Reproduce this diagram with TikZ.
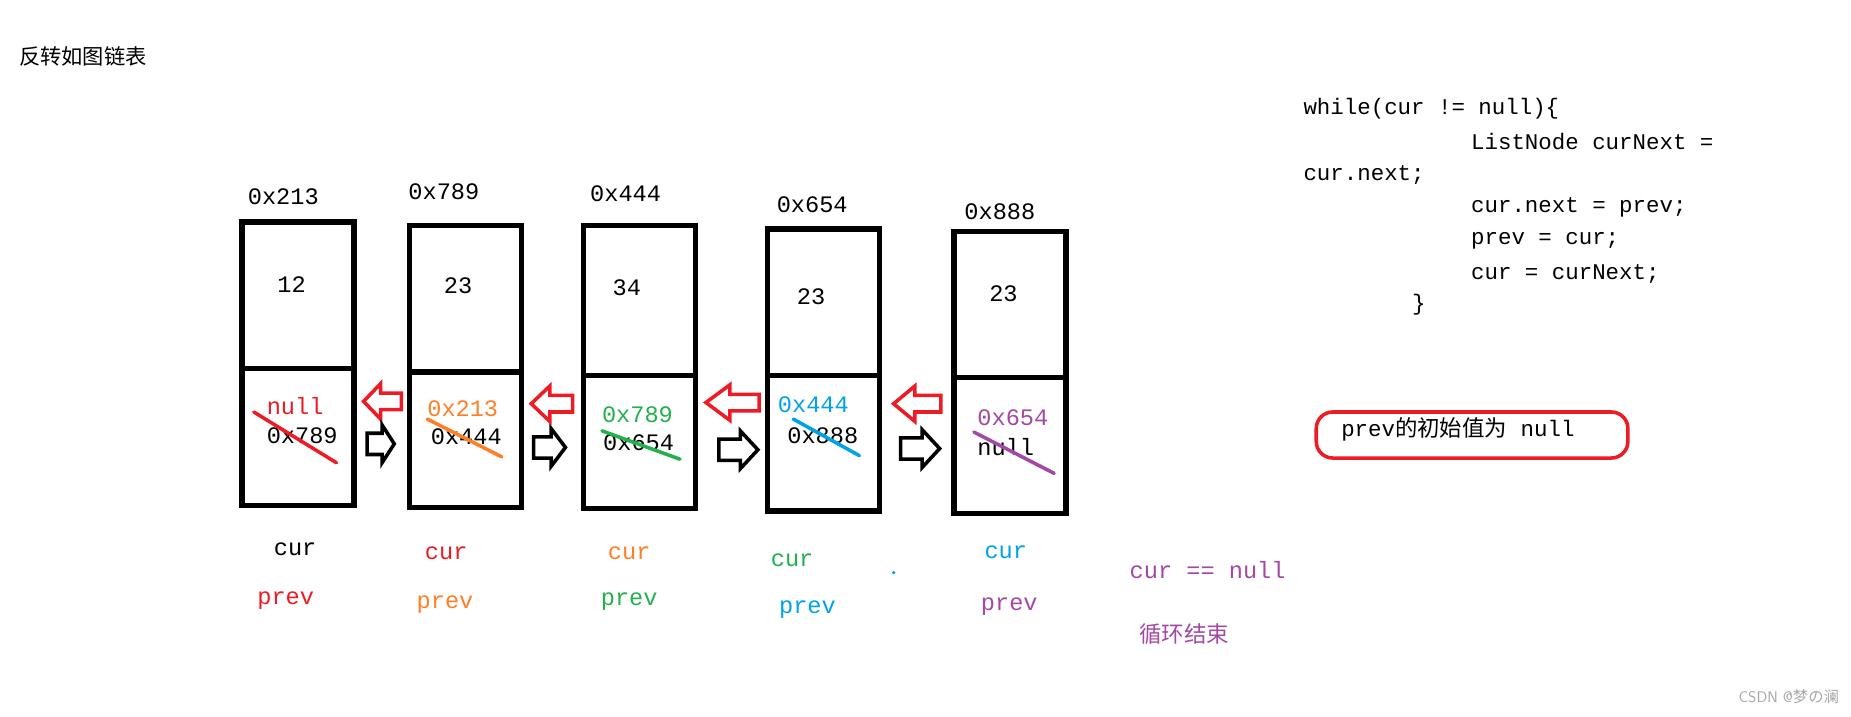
\documentclass[tikz,border=0pt]{standalone}
\usepackage{fontspec}
\setmainfont{Liberation Serif}
\setmonofont{Liberation Mono}
\newfontfamily\cjk{Noto Sans CJK SC}
\definecolor{myred}{RGB}{237,28,36}
\definecolor{myorange}{RGB}{255,127,39}
\definecolor{mygreen}{RGB}{34,177,76}
\definecolor{myblue}{RGB}{0,162,232}
\definecolor{mypurple}{RGB}{163,73,164}
\begin{document}
\begin{tikzpicture}[x=1pt,y=-1pt,
  box/.style={draw=black,line width=4.5pt},
  lbl/.style={font=\fontsize{20}{22}\selectfont\ttfamily,inner sep=0pt},
  code/.style={font=\fontsize{19}{21}\selectfont\ttfamily,inner sep=0pt,anchor=west},
  strike/.style={line width=3pt,line cap=round},
  harrow/.style={line width=3pt,line join=miter}]
\useasboundingbox (0,0) rectangle (1568,607);
\node[font=\cjk\fontsize{18}{20}\selectfont,anchor=west,inner sep=0pt] (title) at (16,48) {反转如图链表};
% boxes
\foreach \i/\x/\t/\d/\b in {1/205/188/312/428,2/347/191/315/430,3/494/191/318/431,4/650/194/318/433,5/808/196/320/435}{
  \draw[box] (\x,\t) rectangle (\x+95,\b);
  \draw[box] (\x,\d) -- (\x+95,\d);
}
\node[lbl] (a1) at (240,167) {0x213};
\node[lbl] (a2) at (376,162) {0x789};
\node[lbl] (a3) at (530,164) {0x444};
\node[lbl] (a4) at (688,173) {0x654};
\node[lbl] (a5) at (847,179) {0x888};
\node[lbl] (v1) at (247,241) {12};
\node[lbl] (v2) at (388,242) {23};
\node[lbl] (v3) at (531,244) {34};
\node[lbl] (v4) at (687,251) {23};
\node[lbl] (v5) at (850,249) {23};
% next fields
\node[lbl,myred] (n1) at (250,344) {null};
\node[lbl] (o1) at (256,369) {0x789};
\draw[strike,myred] (215,349) -- (285,392);
\node[lbl,myorange] (n2) at (392,346) {0x213};
\node[lbl] (o2) at (395,370) {0x444};
\draw[strike,myorange] (362,355) -- (425,387);
\node[lbl,mygreen] (n3) at (540,351) {0x789};
\node[lbl] (o3) at (541,375) {0x654};
\draw[strike,mygreen] (510,365) -- (576,389);
\node[lbl,myblue] (n4) at (689,343) {0x444};
\node[lbl] (o4) at (697,369) {0x888};
\draw[strike,myblue] (672,355) -- (728,386);
\node[lbl,mypurple] (n5) at (858,354) {0x654};
\node[lbl] (o5) at (852,379) {null};
\draw[strike,mypurple] (825,366) -- (893,401);
% hollow arrows
\foreach \a/\b/\y in {308/340/340,450/485/342,598/643/341,757/797/342}{
  \pgfmathsetmacro\m{\a+0.45*(\b-\a)}
  \draw[harrow,myred] (\a,\y) -- (\m,\y-15) -- (\m,\y-7) -- (\b,\y-7) -- (\b,\y+7) -- (\m,\y+7) -- (\m,\y+15) -- cycle;
}
\foreach \a/\b/\y in {311/334/376,452/479/379,609/642/381,763/796/380}{
  \pgfmathsetmacro\m{\a+0.55*(\b-\a)}
  \draw[harrow,black] (\b,\y) -- (\m,\y-16) -- (\m,\y-9) -- (\a,\y-9) -- (\a,\y+9) -- (\m,\y+9) -- (\m,\y+16) -- cycle;
}
% cur / prev labels
\node[lbl] (c1) at (250,465) {cur};
\node[lbl,myred] (p1) at (242,509) {prev};
\node[lbl,myred] (c2) at (378,469) {cur};
\node[lbl,myorange] (p2) at (377,512) {prev};
\node[lbl,myorange] (c3) at (533,469) {cur};
\node[lbl,mygreen] (p3) at (533,510) {prev};
\node[lbl,mygreen] (c4) at (671,475) {cur};
\node[lbl,myblue] (p4) at (684,516) {prev};
\fill[myblue] (757,485) circle (1.6);
\node[lbl,myblue] (c5) at (852,468) {cur};
\node[lbl,mypurple] (p5) at (855,514) {prev};
\node[lbl,mypurple] (end1) at (1023,483) {cur == null};
\node[font=\cjk\fontsize{19}{21}\selectfont,mypurple,inner sep=0pt] (end2) at (1003,537) {循环结束};
% code
\node[code] (l1) at (1104,92) {while(cur != null)\{};
\node[code] (l2) at (1246,120) {ListNode curNext =};
\node[code] (l3) at (1104,148) {cur.next;};
\node[code] (l4) at (1246,176) {cur.next = prev;};
\node[code] (l5) at (1246,204) {prev = cur;};
\node[code] (l6) at (1246,232) {cur = curNext;};
\node[code] (l7) at (1196,258) {\}};
% note
\draw[myred,line width=3pt,rounded corners=14pt] (1115,349) rectangle (1379,388);
\node[code] (note) at (1136,364) {prev{\cjk 的初始值为} null};
\node[font=\fontsize{13}{15}\selectfont\sffamily,gray!70,anchor=east,inner sep=0pt] (wm) at (1558,590) {CSDN @{\cjk 梦の澜}};
\end{tikzpicture}
\end{document}
